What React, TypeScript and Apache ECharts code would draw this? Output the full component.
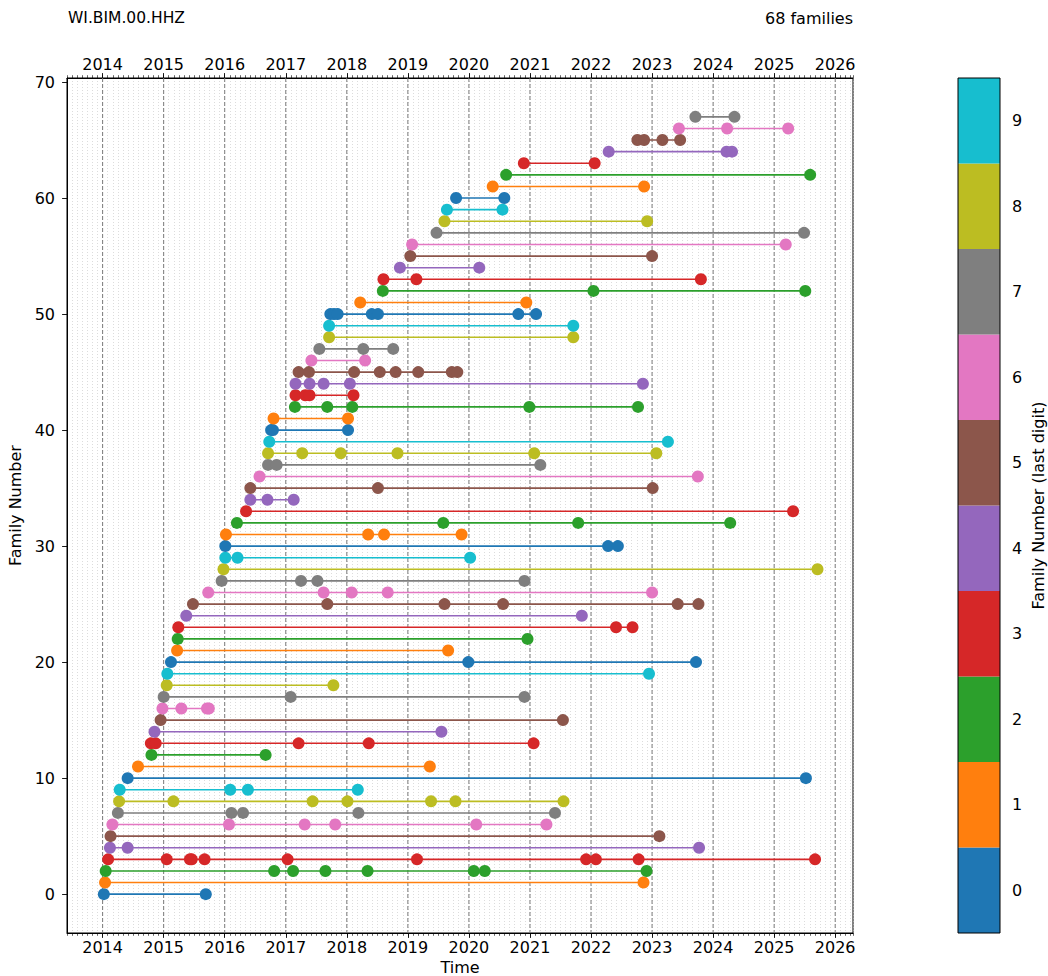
import React, { useEffect, useRef } from 'react';
import * as echarts from 'echarts';

const stationLabel = 'WI.BIM.00.HHZ';
const familyCountLabel = '68 families';
const xAxisTitle = 'Time';
const yAxisTitle = 'Family Number';
const colorbarTitle = 'Family Number (last digit)';
const yearTicks = [2014, 2015, 2016, 2017, 2018, 2019, 2020, 2021, 2022, 2023, 2024, 2025, 2026];
const familyTicks = [0, 10, 20, 30, 40, 50, 60, 70];
const digitLabels = ['0', '1', '2', '3', '4', '5', '6', '7', '8', '9'];
const tab10 = ['#1f77b4', '#ff7f0e', '#2ca02c', '#d62728', '#9467bd', '#8c564b', '#e377c2', '#7f7f7f', '#bcbd22', '#17becf'];

// event times (decimal years) per family, index = family number
const familyEvents: number[][] = [
  [2014.02, 2015.69],
  [2014.04, 2022.86],
  [2014.05, 2016.81, 2017.12, 2017.65, 2018.34, 2020.08, 2020.26, 2022.91],
  [2014.09, 2015.05, 2015.43, 2015.46, 2015.67, 2017.03, 2019.15, 2021.92, 2022.08, 2022.78, 2025.67],
  [2014.12, 2014.41, 2023.77],
  [2014.13, 2023.12],
  [2014.16, 2016.07, 2017.31, 2017.81, 2020.12, 2021.27],
  [2014.25, 2016.11, 2016.3, 2018.19, 2021.41],
  [2014.27, 2015.16, 2017.44, 2018.01, 2019.38, 2019.78, 2021.55],
  [2014.28, 2016.09, 2016.38, 2018.18],
  [2014.41, 2025.52],
  [2014.58, 2019.36],
  [2014.8, 2016.67],
  [2014.79, 2014.87, 2017.21, 2018.36, 2021.06],
  [2014.85, 2019.55],
  [2014.95, 2021.54],
  [2014.98, 2015.29, 2015.71, 2015.74],
  [2015.0, 2017.08, 2020.91],
  [2015.05, 2017.78],
  [2015.06, 2022.95],
  [2015.12, 2019.99, 2023.72],
  [2015.22, 2019.66],
  [2015.23, 2020.96],
  [2015.24, 2022.41, 2022.68],
  [2015.37, 2021.85],
  [2015.48, 2017.68, 2019.6, 2020.56, 2023.42, 2023.76],
  [2015.73, 2017.62, 2018.08, 2018.67, 2023.0],
  [2015.95, 2017.25, 2017.52, 2020.91],
  [2015.98, 2025.71],
  [2016.01, 2016.21, 2020.02],
  [2016.01, 2022.28, 2022.44],
  [2016.02, 2018.35, 2018.61, 2019.88],
  [2016.2, 2019.58, 2021.79, 2024.28],
  [2016.35, 2025.31],
  [2016.42, 2016.7, 2017.13],
  [2016.42, 2018.51, 2023.01],
  [2016.57, 2023.75],
  [2016.71, 2016.85, 2021.17],
  [2016.71, 2017.27, 2017.9, 2018.83, 2021.07, 2023.07],
  [2016.73, 2023.26],
  [2016.76, 2016.79, 2018.02],
  [2016.8, 2018.02],
  [2017.15, 2017.68, 2018.09, 2020.99, 2022.77],
  [2017.16, 2017.32, 2017.39, 2018.11],
  [2017.16, 2017.39, 2017.62, 2018.05, 2022.85],
  [2017.21, 2017.38, 2018.12, 2018.54, 2018.8, 2019.17, 2019.72, 2019.81],
  [2017.42, 2018.3],
  [2017.55, 2018.27, 2018.76],
  [2017.71, 2021.71],
  [2017.71, 2021.71],
  [2017.73, 2017.79, 2017.85, 2018.41, 2018.51, 2020.81, 2021.1],
  [2018.22, 2020.94],
  [2018.59, 2022.04, 2025.51],
  [2018.6, 2019.14, 2023.8],
  [2018.87, 2020.17],
  [2019.04, 2023.0],
  [2019.07, 2025.19],
  [2019.47, 2025.49],
  [2019.6, 2022.92],
  [2019.64, 2020.55],
  [2019.79, 2020.58],
  [2020.39, 2022.87],
  [2020.61, 2025.59],
  [2020.9, 2022.06],
  [2022.29, 2024.22, 2024.31],
  [2022.76, 2022.87, 2023.17, 2023.46],
  [2023.44, 2024.23, 2025.23],
  [2023.71, 2024.35],
];

const X_MIN = 24161; // months (2013 + 5/12)
const X_MAX = 24315.5;
const Y_MIN = -3.35;
const Y_MAX = 70.35;
const FONT = 'DejaVu Sans';

export default function App() {
  const ref = useRef<HTMLDivElement>(null);

  useEffect(() => {
    if (!ref.current) return;
    const chart = echarts.init(ref.current, undefined, { renderer: 'svg' });

    const yearMonths = yearTicks.map((y) => y * 12);
    const labelStyle = { fontSize: 16, color: '#000', fontFamily: FONT };

    const minorAxis = (position: string, withLabels: boolean, withSplit: boolean) => ({
      type: 'value',
      gridIndex: 0,
      position,
      min: X_MIN,
      max: X_MAX,
      interval: 1,
      axisLine: { show: true, onZero: false, lineStyle: { color: '#000', width: 1 } },
      axisTick: { show: true, length: 2.8, lineStyle: { color: '#000', width: 0.6 } },
      axisLabel: withLabels
        ? {
            show: true,
            customValues: yearMonths,
            formatter: (v: number) => String(Math.round(v / 12)),
            margin: 6,
            ...labelStyle,
          }
        : { show: false },
      splitLine: withSplit
        ? { show: true, lineStyle: { color: '#c4c4c4', width: 0.6, type: [1, 2] } }
        : { show: false },
    });

    const majorAxis = (position: string) => ({
      type: 'value',
      gridIndex: 0,
      position,
      min: X_MIN,
      max: X_MAX,
      interval: 1,
      axisLine: { show: false, onZero: false },
      axisTick: { show: true, customValues: yearMonths, length: 4.9, lineStyle: { color: '#000', width: 0.9 } },
      axisLabel: { show: false },
      splitLine: { show: false },
    });

    const familySeries = familyEvents.map((ev, n) => ({
      type: 'line',
      name: 'family ' + n,
      xAxisIndex: 0,
      yAxisIndex: 0,
      data: ev.map((t) => [t * 12, n]),
      symbol: 'circle',
      symbolSize: 12,
      showSymbol: true,
      lineStyle: { color: tab10[n % 10], width: 1.6 },
      itemStyle: { color: tab10[n % 10] },
      z: 3,
      silent: true,
    }));

    const option: any = {
      animation: false,
      backgroundColor: '#fff',
      textStyle: { fontFamily: FONT },
      grid: [
        {
          left: 67, right: 195, top: 78, bottom: 43,
          show: true, borderColor: '#000', borderWidth: 1, backgroundColor: 'transparent',
          containLabel: false, outerBoundsMode: 'none',
        },
        { left: 958, width: 42, top: 78, height: 855, show: false, containLabel: false, outerBoundsMode: 'none' },
      ],
      xAxis: [
        {
          ...minorAxis('bottom', true, true),
          name: xAxisTitle,
          nameLocation: 'middle',
          nameGap: 26,
          nameTextStyle: { ...labelStyle },
        },
        majorAxis('bottom'),
        minorAxis('top', true, false),
        majorAxis('top'),
        { type: 'value', gridIndex: 1, min: 0, max: 1, show: false },
      ],
      yAxis: [
        {
          type: 'value',
          gridIndex: 0,
          min: Y_MIN,
          max: Y_MAX,
          axisLine: { show: true, onZero: false, lineStyle: { color: '#000' } },
          axisTick: { show: true, customValues: familyTicks, length: 4.9, lineStyle: { color: '#000', width: 0.9 } },
          axisLabel: { show: true, customValues: familyTicks, margin: 12, ...labelStyle },
          splitLine: { show: false },
          name: yAxisTitle,
          nameLocation: 'middle',
          nameGap: 40,
          nameTextStyle: { ...labelStyle },
        },
        {
          type: 'category',
          gridIndex: 1,
          position: 'right',
          data: digitLabels,
          axisLine: { show: false },
          axisTick: { show: true, alignWithLabel: true, length: 5, lineStyle: { color: '#000', width: 0.9 } },
          axisLabel: { show: true, margin: 12, ...labelStyle },
          splitLine: { show: false },
        },
      ],
      series: [
        {
          type: 'custom',
          xAxisIndex: 0,
          yAxisIndex: 0,
          data: yearMonths.map((m) => [m, 0]),
          z: 1,
          silent: true,
          renderItem: (_p: any, api: any) => {
            const x = api.coord([api.value(0), Y_MIN])[0];
            const y1 = api.coord([api.value(0), Y_MAX])[1];
            const y2 = api.coord([api.value(0), Y_MIN])[1];
            return {
              type: 'line',
              shape: { x1: x, y1, x2: x, y2 },
              style: { stroke: '#7a7a7a', lineWidth: 1, lineDash: [4, 2] },
            };
          },
        },
        ...familySeries,
        {
          type: 'bar',
          xAxisIndex: 4,
          yAxisIndex: 1,
          barWidth: '100%',
          silent: true,
          data: digitLabels.map((_d, i) => ({ value: 1, itemStyle: { color: tab10[i] } })),
        },
      ],
      graphic: [
        {
          type: 'text',
          left: 68,
          top: 10,
          style: { text: stationLabel, fontSize: 15.5, fontFamily: FONT, fill: '#000' },
        },
        {
          type: 'text',
          right: 1048 - 853,
          top: 10,
          style: { text: familyCountLabel, fontSize: 16, fontFamily: FONT, fill: '#000' },
        },
        {
          type: 'rect',
          shape: { x: 958, y: 78, width: 42, height: 855 },
          style: { fill: 'none', stroke: '#000', lineWidth: 1 },
          z: 100,
        },
        {
          type: 'text',
          x: 1038,
          y: 505.5,
          rotation: Math.PI / 2,
          style: {
            text: colorbarTitle,
            fontSize: 16,
            fontFamily: FONT,
            fill: '#000',
            align: 'center',
            verticalAlign: 'middle',
          },
          z: 100,
        },
      ],
    };

    chart.setOption(option);
    return () => chart.dispose();
  }, []);

  return (
    <div
      ref={ref}
      style={{ position: 'fixed', left: 0, top: 0, width: 1048, height: 976, background: '#fff' }}
    />
  );
}
